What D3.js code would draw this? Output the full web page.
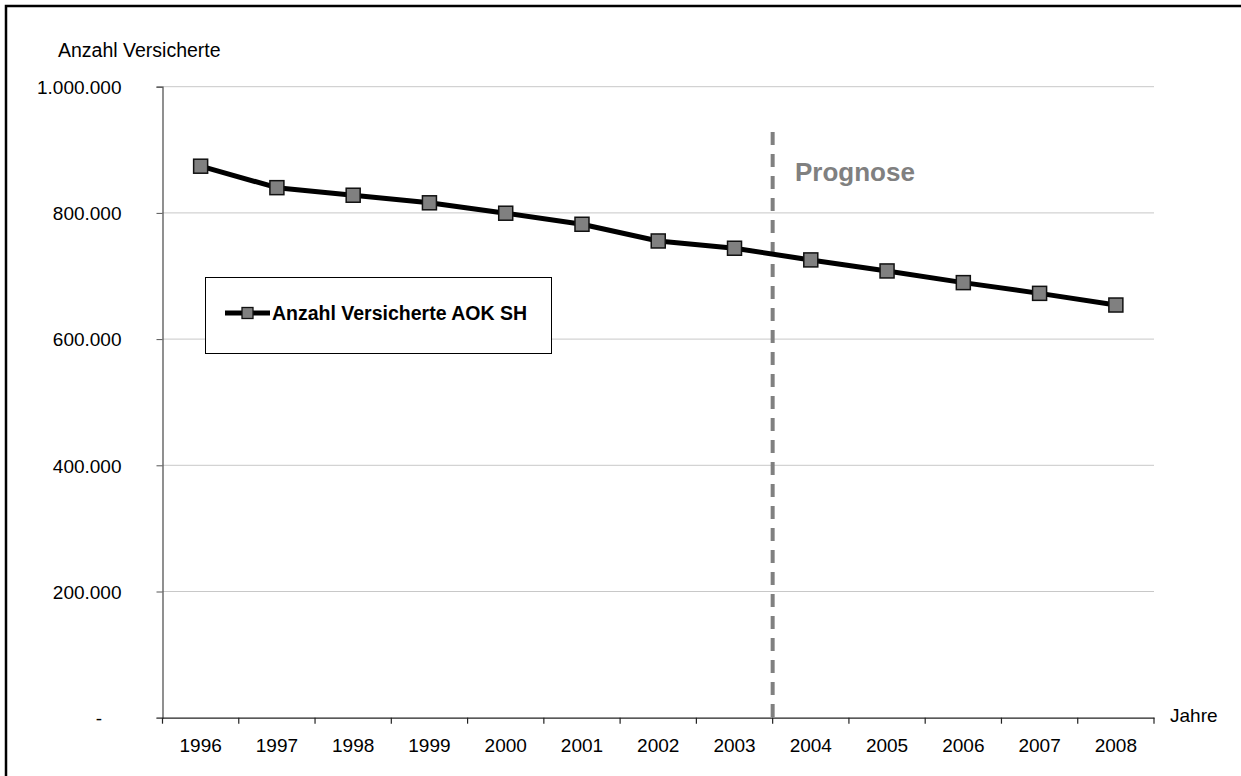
<!DOCTYPE html>
<html><head><meta charset="utf-8">
<script src="https://cdn.jsdelivr.net/npm/d3@7"></script>
<style>
html,body{margin:0;padding:0;background:#fff;overflow:hidden}
svg{display:block;font-family:Arial,"Liberation Sans",sans-serif}
</style></head>
<body>
<svg id="c" width="1241" height="776"></svg>
<script>
const years = ["1996","1997","1998","1999","2000","2001","2002","2003","2004","2005","2006","2007","2008"];
const versicherte = [874000, 840000, 828000, 816000, 799500, 782000, 755500, 744000, 725500, 708000, 689500, 672500, 654000];
const yTicks = [0, 200000, 400000, 600000, 800000, 1000000];
const seriesName = "Anzahl Versicherte AOK SH";
const yTitle = "Anzahl Versicherte";
const xTitle = "Jahre";
const prognoseLabel = "Prognose";
const prognoseStart = "2004";

const svg = d3.select("#c");
// outer frame (top & left visible)
svg.append("rect").attr("x",6).attr("y",6).attr("width",1300).attr("height",900)
  .attr("fill","none").attr("stroke","#000").attr("stroke-width",2.5);

const L=162.5, R=1154, T=86.7, B=717.7;
const x = d3.scaleBand().domain(years).range([L,R]).padding(0);
const y = d3.scaleLinear().domain([0,1000000]).range([B,T]);

const fmt = v => v===0 ? "-" : d3.format(",")(v).replace(/,/g,".");

// gridlines
svg.append("g").selectAll("line").data(yTicks.filter(d=>d>0)).join("line")
  .attr("x1",L).attr("x2",R).attr("y1",d=>y(d)).attr("y2",d=>y(d))
  .attr("stroke","#c8c8c8").attr("stroke-width",1);

// y axis
const ya = svg.append("g").attr("transform",`translate(${L},0)`)
  .call(d3.axisLeft(y).tickValues(yTicks).tickSize(6).tickPadding(35).tickFormat(fmt));
ya.select(".domain").attr("stroke","#555").attr("stroke-width",1.3);
ya.selectAll(".tick line").attr("stroke","#555");
ya.selectAll("text").attr("font-size",19).attr("fill","#000")
  .attr("font-family","Arial,'Liberation Sans',sans-serif").attr("dy","0.36em");
ya.selectAll(".tick").filter(d=>d===0).select("text").attr("text-anchor","middle").attr("x",-63.5);

// x axis
const xa = svg.append("g").attr("transform",`translate(0,${B})`)
  .call(d3.axisBottom(x).tickSize(0).tickPadding(34));
xa.select(".domain").attr("stroke","#222").attr("stroke-width",1.3);
xa.selectAll("text").attr("font-size",19).attr("fill","#000")
  .attr("font-family","Arial,'Liberation Sans',sans-serif").attr("dy","0");
// category boundary ticks
const bounds = years.map(d=>x(d)).concat([x(years[years.length-1])+x.bandwidth()]);
svg.append("g").selectAll("line").data(bounds).join("line")
  .attr("x1",d=>d).attr("x2",d=>d).attr("y1",B).attr("y2",B+6)
  .attr("stroke","#222").attr("stroke-width",1.2);

// titles
svg.append("text").attr("x",58).attr("y",57).attr("font-size",19.5).text(yTitle);
svg.append("text").attr("x",1170).attr("y",722).attr("font-size",19).text(xTitle);

// prognose divider
const px = x(prognoseStart);
svg.append("line").attr("x1",px).attr("x2",px).attr("y1",132).attr("y2",B)
  .attr("stroke","#808080").attr("stroke-width",4).attr("stroke-dasharray","13,9");
svg.append("text").attr("x",795).attr("y",181).attr("font-size",26).attr("font-weight","bold")
  .attr("fill","#808080").text(prognoseLabel);

// series
const cx = d => x(d)+x.bandwidth()/2;
svg.append("path").datum(versicherte)
  .attr("d", d3.line().x((d,i)=>cx(years[i])).y(d=>y(d)))
  .attr("fill","none").attr("stroke","#000").attr("stroke-width",5).attr("stroke-linejoin","round");
svg.append("g").selectAll("rect").data(versicherte).join("rect")
  .attr("x",(d,i)=>cx(years[i])-7).attr("y",d=>y(d)-7).attr("width",14).attr("height",14)
  .attr("fill","#808080").attr("stroke","#111").attr("stroke-width",1.5);

// legend
const lg = svg.append("g");
lg.append("rect").attr("x",205.5).attr("y",277.5).attr("width",346).attr("height",76)
  .attr("fill","#fff").attr("stroke","#000").attr("stroke-width",1);
lg.append("line").attr("x1",225).attr("x2",270).attr("y1",313).attr("y2",313)
  .attr("stroke","#000").attr("stroke-width",5);
lg.append("rect").attr("x",242).attr("y",307.5).attr("width",11).attr("height",11)
  .attr("fill","#808080").attr("stroke","#111").attr("stroke-width",1.3);
lg.append("text").attr("x",272).attr("y",320).attr("font-size",19.5).attr("font-weight","bold").text(seriesName);
</script>
</body></html>
